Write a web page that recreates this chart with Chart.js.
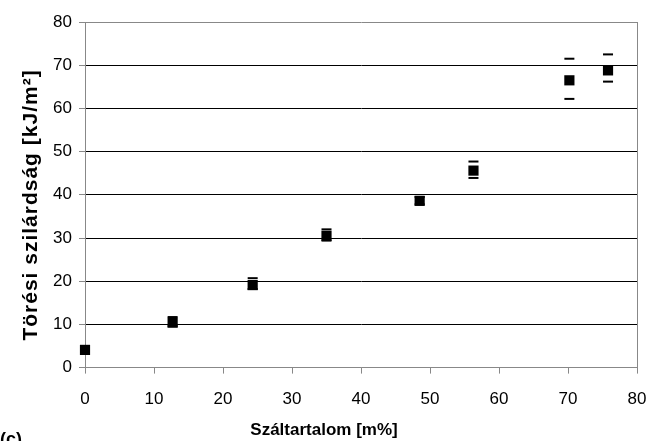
<!DOCTYPE html>
<html>
<head>
<meta charset="utf-8">
<script src="https://cdn.jsdelivr.net/npm/chart.js@4.4.1/dist/chart.umd.min.js"></script>
<style>
  body { margin: 0; background: #fff; }
  #wrap { width: 648px; height: 441px; }
</style>
</head>
<body>
<div id="wrap"><canvas id="myChart"></canvas></div>
<script>
    // fiber content [m%] vs. fracture toughness [kJ/m2]
    const xValues = [0, 12.7, 24.3, 35.0, 48.5, 56.3, 70.2, 75.8];
    const yValues = [4.1, 10.4, 19.1, 30.5, 38.6, 45.6, 66.5, 68.8];
    const yHigh = [4.1, 11.7, 20.7, 32.0, 39.5, 47.7, 71.5, 72.5];
    const yLow = [4.1, 9.6, 18.2, 29.4, 37.8, 43.9, 62.2, 66.2];
    const xTicks = [0, 10, 20, 30, 40, 50, 60, 70, 80];
    const yTicks = [0, 10, 20, 30, 40, 50, 60, 70, 80];
    const yTitle = "Törési szilárdság [kJ/m²]";
    const xTitle = "Száltartalom [m%]";

    const font = "'Liberation Sans', Arial, sans-serif";

    // only the caps of the error bars are visible in the original
    const errorCaps = {
      id: "errorCaps",
      beforeDatasetsDraw(chart) {
        const ctx = chart.ctx;
        const xs = chart.scales.x, ys = chart.scales.y;
        ctx.save();
        ctx.fillStyle = "#000";
        xValues.forEach(function (x, i) {
          const px = xs.getPixelForValue(x);
          [yHigh[i], yLow[i]].forEach(function (v) {
            if (v === yValues[i]) return;
            const py = ys.getPixelForValue(v);
            ctx.fillRect(px - 5, py - 1, 10, 2);
          });
        });
        ctx.restore();
      }
    };

    // rotated y title and panel label
    const labels = {
      id: "labels",
      afterDraw(chart) {
        const ctx = chart.ctx;
        ctx.save();
        ctx.fillStyle = "#000";
        ctx.translate(37, 205);
        ctx.rotate(-Math.PI / 2);
        ctx.font = "bold 21px " + font;
        ctx.letterSpacing = "1px";
        ctx.textAlign = "center";
        ctx.textBaseline = "alphabetic";
        ctx.fillText(yTitle, 0, 0);
        ctx.restore();

        ctx.save();
        ctx.fillStyle = "#000";
        ctx.font = "bold 18px " + font;
        ctx.textBaseline = "alphabetic";
        ctx.fillText("(c)", 0, 445);
        ctx.restore();
      }
    };

    const border = "#888";

    new Chart("myChart", {
      type: "scatter",
      data: {
        datasets: [{
          data: xValues.map((x, i) => ({ x: x, y: yValues[i] })),
          pointStyle: "rect",
          pointRadius: 7.2,
          pointHoverRadius: 7.2,
          backgroundColor: "#000",
          borderColor: "#000",
          borderWidth: 0,
          clip: false
        }]
      },
      options: {
        responsive: true,
        maintainAspectRatio: false,
        animation: false,
        layout: { padding: { left: 0, right: 0, top: 22, bottom: 0 } },
        plugins: {
          legend: { display: false },
          tooltip: { enabled: false },
          title: {
            display: true,
            position: "bottom",
            text: xTitle,
            color: "#000",
            font: { family: font, size: 17, weight: "bold" },
            padding: { top: 2, bottom: 0 }
          }
        },
        scales: {
          x: {
            type: "linear",
            min: 0,
            max: 80,
            afterBuildTicks: function (s) { s.ticks = xTicks.map(v => ({ value: v })); },
            afterFit: function (s) { s.height = 51; s.paddingRight = 11; s.paddingLeft = 0; },
            border: { color: border, width: 1 },
            grid: {
              color: c => c.tick && c.tick.value === 80 ? border : "transparent",
              tickColor: border,
              tickLength: 6
            },
            ticks: {
              color: "#000",
              padding: 16,
              font: { family: font, size: 17 }
            }
          },
          y: {
            min: 0,
            max: 80,
            afterBuildTicks: function (s) { s.ticks = yTicks.map(v => ({ value: v })); },
            afterFit: function (s) { s.width = 85; },
            border: { color: border, width: 1 },
            grid: {
              color: c => c.tick && (c.tick.value === 80 || c.tick.value === 0) ? border : "#000",
              tickColor: border,
              tickLength: 6
            },
            ticks: {
              color: "#000",
              padding: 7,
              font: { family: font, size: 17 }
            }
          }
        }
      },
      plugins: [errorCaps, labels]
    });
</script>
</body>
</html>
